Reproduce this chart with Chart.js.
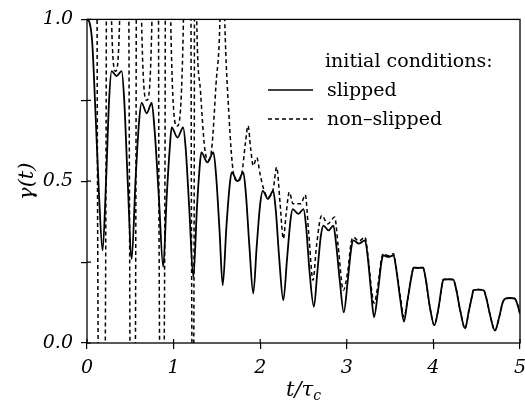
<!DOCTYPE html>
<html>
<head>
<meta charset="utf-8">
<script src="https://cdn.jsdelivr.net/npm/chart.js@4.4.1/dist/chart.umd.min.js"></script>
<style>
  html, body { margin: 0; background: #fff; }
  #wrap { width: 525px; height: 405px; }
</style>
</head>
<body>
<div id="wrap"><canvas id="gammaChart"></canvas></div>
<script>
// values (t in units of tau_c)
const slippedT = [0, 0.03, 0.06, 0.10, 0.14, 0.18, 0.22, 0.255, 0.285, 0.34, 0.40, 0.43, 0.47, 0.516, 0.56, 0.60, 0.63, 0.69, 0.747, 0.78, 0.83, 0.88, 0.92, 0.955, 0.978, 1.045, 1.11, 1.14, 1.18, 1.228, 1.27, 1.30, 1.32, 1.39, 1.46, 1.49, 1.53, 1.567, 1.61, 1.645, 1.67, 1.74, 1.805, 1.835, 1.875, 1.92, 1.96, 2.00, 2.03, 2.09, 2.15, 2.18, 2.22, 2.267, 2.31, 2.35, 2.375, 2.44, 2.50, 2.53, 2.57, 2.62, 2.66, 2.70, 2.73, 2.79, 2.845, 2.875, 2.92, 2.965, 3.01, 3.05, 3.075, 3.14, 3.21, 3.24, 3.28, 3.314, 3.36, 3.40, 3.42, 3.48, 3.54, 3.57, 3.62, 3.66, 3.70, 3.75, 3.77, 3.825, 3.88, 3.91, 3.96, 4.01, 4.06, 4.10, 4.115, 4.17, 4.23, 4.26, 4.31, 4.365, 4.41, 4.45, 4.46, 4.52, 4.58, 4.61, 4.66, 4.71, 4.76, 4.80, 4.83, 4.885, 4.94, 4.97, 5.0];
const slippedY = [1.0, 0.99, 0.93, 0.70, 0.45, 0.286, 0.50, 0.75, 0.84, 0.825, 0.84, 0.75, 0.50, 0.26, 0.50, 0.68, 0.742, 0.71, 0.742, 0.66, 0.45, 0.235, 0.45, 0.60, 0.666, 0.635, 0.666, 0.60, 0.42, 0.204, 0.42, 0.54, 0.589, 0.558, 0.589, 0.52, 0.35, 0.178, 0.36, 0.48, 0.527, 0.50, 0.527, 0.46, 0.30, 0.153, 0.30, 0.43, 0.47, 0.445, 0.47, 0.41, 0.26, 0.132, 0.26, 0.38, 0.414, 0.399, 0.414, 0.36, 0.22, 0.112, 0.22, 0.33, 0.363, 0.348, 0.363, 0.31, 0.19, 0.095, 0.19, 0.29, 0.317, 0.307, 0.317, 0.27, 0.16, 0.08, 0.16, 0.25, 0.271, 0.266, 0.271, 0.23, 0.13, 0.066, 0.13, 0.21, 0.233, 0.232, 0.233, 0.20, 0.11, 0.055, 0.11, 0.18, 0.196, 0.197, 0.196, 0.17, 0.10, 0.045, 0.10, 0.15, 0.163, 0.165, 0.163, 0.14, 0.08, 0.038, 0.08, 0.125, 0.137, 0.139, 0.137, 0.12, 0.09];

const nonSlippedT = [0, 0.10, 0.12, 0.135, 0.17, 0.205, 0.22, 0.24, 0.275, 0.33, 0.385, 0.45, 0.49, 0.50, 0.527, 0.555, 0.565, 0.585, 0.63, 0.69, 0.75, 0.81, 0.83, 0.845, 0.865, 0.885, 0.90, 0.92, 0.97, 1.04, 1.11, 1.185, 1.205, 1.215, 1.222, 1.23, 1.238, 1.245, 1.267, 1.31, 1.36, 1.40, 1.44, 1.49, 1.535, 1.56, 1.59, 1.64, 1.69, 1.74, 1.79, 1.83, 1.86, 1.89, 1.92, 1.96, 2.00, 2.04, 2.09, 2.15, 2.19, 2.23, 2.267, 2.30, 2.336, 2.38, 2.42, 2.47, 2.52, 2.56, 2.61, 2.65, 2.71, 2.78, 2.86, 2.90, 2.96, 3.01, 3.05, 3.075, 3.14, 3.21, 3.24, 3.28, 3.314, 3.36, 3.40, 3.42, 3.48, 3.54, 3.57, 3.62, 3.66, 3.70, 3.75, 3.77, 3.825, 3.88, 3.91, 3.96, 4.01, 4.06, 4.10, 4.115, 4.17, 4.23, 4.26, 4.31, 4.365, 4.41, 4.45, 4.46, 4.52, 4.58, 4.61, 4.66, 4.71, 4.76, 4.80, 4.83, 4.885, 4.94, 4.97, 5.0];
const nonSlippedY = [1.0, 3.0, 0.6, -0.3, -1.0, -0.3, 0.6, 3.0, 1.1, 0.84, 1.1, 3.0, 0.5, -0.3, -1.0, -0.3, 0.5, 3.0, 1.0, 0.75, 1.0, 3.0, 0.5, -0.3, -1.0, -0.3, 0.5, 3.0, 0.95, 0.67, 0.95, 3.0, 0.5, -0.3, -1.0, -0.3, 0.5, 1.6, 1.0, 0.78, 0.60, 0.565, 0.60, 0.80, 1.0, 1.4, 1.0, 0.70, 0.527, 0.50, 0.527, 0.62, 0.671, 0.60, 0.548, 0.573, 0.52, 0.476, 0.45, 0.476, 0.543, 0.43, 0.322, 0.40, 0.466, 0.43, 0.43, 0.43, 0.458, 0.34, 0.194, 0.30, 0.394, 0.368, 0.389, 0.30, 0.163, 0.22, 0.31, 0.327, 0.315, 0.327, 0.28, 0.18, 0.123, 0.18, 0.26, 0.276, 0.27, 0.276, 0.235, 0.14, 0.08, 0.13, 0.21, 0.233, 0.232, 0.233, 0.20, 0.11, 0.055, 0.11, 0.18, 0.196, 0.197, 0.196, 0.17, 0.10, 0.045, 0.10, 0.15, 0.163, 0.165, 0.163, 0.14, 0.08, 0.038, 0.08, 0.125, 0.137, 0.139, 0.137, 0.12, 0.09];

const xTicks = [0, 1, 2, 3, 4, 5];
const yTicks = [0, 0.25, 0.5, 0.75, 1];
const yTickLabels = ['0.0', '', '0.5', '', '1.0'];

const legendTitle = 'initial conditions:';
const seriesNames = ['slipped', 'non\u2013slipped'];

const serif = '"DejaVu Serif", "Liberation Serif", serif';

const toPoints = (ts, ys) => ts.map((t, i) => ({ x: t, y: ys[i] }));

// frame, inward ticks, legend and axis titles
const decor = {
    id: 'decor',
    afterDatasetsDraw(chart) {
        const { ctx, chartArea: a, scales } = chart;
        ctx.save();
        ctx.strokeStyle = '#000';
        ctx.lineWidth = 1.3;
        ctx.strokeRect(a.left, a.top, a.right - a.left, a.bottom - a.top);

        ctx.lineWidth = 1.2;
        ctx.beginPath();
        xTicks.forEach(v => {
            const px = scales.x.getPixelForValue(v);
            ctx.moveTo(px, a.bottom);
            ctx.lineTo(px, a.bottom - 4);
        });
        yTicks.forEach(v => {
            const py = scales.y.getPixelForValue(v);
            ctx.moveTo(a.left, py);
            ctx.lineTo(a.left + 4, py);
        });
        ctx.stroke();

        // legend
        ctx.fillStyle = '#000';
        ctx.font = '19px ' + serif;
        ctx.textBaseline = 'middle';
        ctx.textAlign = 'left';
        ctx.fillText(legendTitle, 325, 62);
        ctx.fillText(seriesNames[0], 327, 91);
        ctx.fillText(seriesNames[1], 327, 120);
        ctx.lineWidth = 1.6;
        ctx.beginPath();
        ctx.moveTo(268, 90);
        ctx.lineTo(313, 90);
        ctx.stroke();
        ctx.setLineDash([4, 3]);
        ctx.lineWidth = 1.4;
        ctx.beginPath();
        ctx.moveTo(268, 119);
        ctx.lineTo(313, 119);
        ctx.stroke();
        ctx.setLineDash([]);

        // x title t/tau_c
        const cx = (a.left + a.right) / 2;
        ctx.font = 'italic 21px ' + serif;
        ctx.textBaseline = 'alphabetic';
        const main = 't/\u03c4';
        const wMain = ctx.measureText(main).width;
        ctx.font = 'italic 14px ' + serif;
        const wSub = ctx.measureText('c').width;
        const x0 = cx - (wMain + wSub) / 2;
        ctx.font = 'italic 21px ' + serif;
        ctx.fillText(main, x0, 396);
        ctx.font = 'italic 14px ' + serif;
        ctx.fillText('c', x0 + wMain, 400);

        // y title gamma(t)
        ctx.translate(28, (a.top + a.bottom) / 2);
        ctx.rotate(-Math.PI / 2);
        ctx.font = 'italic 21px ' + serif;
        ctx.textAlign = 'center';
        ctx.textBaseline = 'middle';
        ctx.fillText('\u03b3(t)', 0, 0);
        ctx.restore();
    }
};

new Chart(document.getElementById('gammaChart'), {
    type: 'line',
    data: {
        datasets: [
            {
                label: seriesNames[0],
                data: toPoints(slippedT, slippedY),
                borderColor: '#000',
                borderWidth: 1.8,
                pointRadius: 0,
                cubicInterpolationMode: 'monotone',
                clip: 0,
            },
            {
                label: seriesNames[1],
                data: toPoints(nonSlippedT, nonSlippedY),
                borderColor: '#000',
                borderWidth: 1.5,
                borderDash: [4, 3],
                pointRadius: 0,
                cubicInterpolationMode: 'monotone',
                clip: 0,
            },
        ],
    },
    options: {
        responsive: true,
        maintainAspectRatio: false,
        animation: false,
        layout: { padding: { top: 18, right: 0, left: 0, bottom: 0 } },
        plugins: {
            legend: { display: false },
            tooltip: { enabled: false },
        },
        scales: {
            x: {
                type: 'linear',
                min: 0,
                max: 5,
                afterBuildTicks: s => { s.ticks = xTicks.map(v => ({ value: v })); },
                afterFit: s => { s.height = 62; s.paddingLeft = 0; s.paddingRight = 5; },
                border: { display: false },
                grid: { drawOnChartArea: false, tickLength: 6, color: '#000', lineWidth: 1.2 },
                ticks: {
                    color: '#000',
                    padding: 8,
                    maxRotation: 0,
                    font: { family: serif, size: 19, style: 'italic' },
                    callback: v => String(v),
                },
            },
            y: {
                min: 0,
                max: 1,
                afterBuildTicks: s => { s.ticks = yTicks.map(v => ({ value: v })); },
                afterFit: s => { s.width = 87; },
                border: { display: false },
                grid: { drawOnChartArea: false, tickLength: 6, color: '#000', lineWidth: 1.2 },
                ticks: {
                    color: '#000',
                    padding: 8,
                    font: { family: serif, size: 19, style: 'italic' },
                    callback: (v, i) => yTickLabels[i],
                },
            },
        },
    },
    plugins: [decor],
});
</script>
</body>
</html>
